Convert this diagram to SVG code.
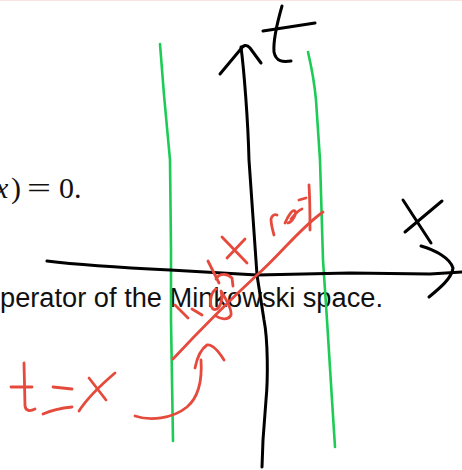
<svg xmlns="http://www.w3.org/2000/svg" width="462" height="470" viewBox="0 0 462 470">
  <style>
    .ink { fill: none; stroke-linecap: round; stroke-linejoin: round; }
    .blk { stroke: #000; stroke-width: 3; }
    .grn { stroke: #1ccc55; stroke-width: 2.6; }
    .red { stroke: #e54a3c; stroke-width: 2.8; }
    .serif { font-family: "Liberation Serif", "DejaVu Serif", serif; font-size: 30px; fill: #111; }
    .sans { font-family: "Liberation Sans", Arial, sans-serif; font-size: 27px; fill: #111; }
  </style>
  <rect width="462" height="470" fill="#fff"/>
  <line x1="0" y1="0.5" x2="462" y2="0.5" stroke="#fbe2e2" stroke-width="1"/>

  <g id="printed-text">
    <text class="serif" x="-5" y="198" font-style="italic">x</text>
    <text class="serif" x="11" y="198">)</text>
    <text class="serif" x="27" y="198" textLength="24" lengthAdjust="spacingAndGlyphs">=</text>
    <text class="serif" x="59" y="198">0.</text>
    <text class="sans" x="0" y="307" textLength="383" lengthAdjust="spacingAndGlyphs">perator of the Minkowski space.</text>
  </g>

  <g id="green-lines" class="ink grn">
    <path d="M160,44 L164,95 L170,160 L171,250 L171,320 L172,380 L173,441"/>
    <path d="M308,52 Q314,78 316,100 L320,160 L323,260 L327,320 L332,400 L335,447"/>
  </g>

  <g id="t-axis" class="ink blk">
    <path d="M241,47 C244,70 248,120 249,160 L257,275 L264,320 C268,340 268,380 266,400 L263,440 L262,467"/>
    <path d="M220,74 L240,50 Q245,42 250,48 L261,63"/>
    <path d="M282,6 C278,20 273,40 274,52 C276,62 283,62 291,61"/>
    <path d="M263,31 L315,23"/>
  </g>

  <g id="x-axis" class="ink blk">
    <path d="M47,261 C80,265 130,268 170,270 L257,275 L350,273 L430,274 L462,272"/>
    <path d="M421,246 C435,250 450,258 453,268 C452,278 440,288 429,297"/>
    <path d="M403,200 L431,243"/>
    <path d="M442,201 L405,232"/>
  </g>

  <g id="light-ray" class="ink red">
    <path d="M323,212 C300,228 280,255 257,275 C230,300 200,330 173,359"/>
    <path d="M175,305 L188,318"/>
    <path d="M192,309 L202,315"/>
    <path d="M216,289 C210,293 209,305 213,309 C218,312 224,302 221,291 C226,299 232,309 231,315 C228,321 220,319 216,316"/>
    <path d="M208,261 L219,283 M216,279 C220,272 228,274 232,278 L233,286"/>
    <path d="M222,237 L247,263 M245,239 L227,258"/>
    <path d="M274,235 C272,228 271,222 271,219 C272,215 275,214 277,215"/>
    <path d="M285,223 C289,214 293,209 295,211 C297,214 292,222 288,223 M291,219 C295,214 299,210 302,209"/>
    <path d="M299,200 L306,198"/>
    <path d="M309,185 C310,200 310,215 310,230"/>
  </g>

  <g id="t-equals-x" class="ink red">
    <path d="M24,363 L25,406 C26,412 31,411 35,409"/>
    <path d="M11,387 L32,387"/>
    <path d="M53,387 L72,389"/>
    <path d="M43,414 C52,410 62,408 72,407"/>
    <path d="M115,373 C102,384 88,397 79,411"/>
    <path d="M89,378 L106,400"/>
  </g>

  <g id="curved-arrow" class="ink red">
    <path d="M135,416 C150,421 172,419 187,407 C200,396 202,376 201,360"/>
    <path d="M195,368 C197,358 201,349 207,345 C213,344 219,352 224,360"/>
  </g>
</svg>
